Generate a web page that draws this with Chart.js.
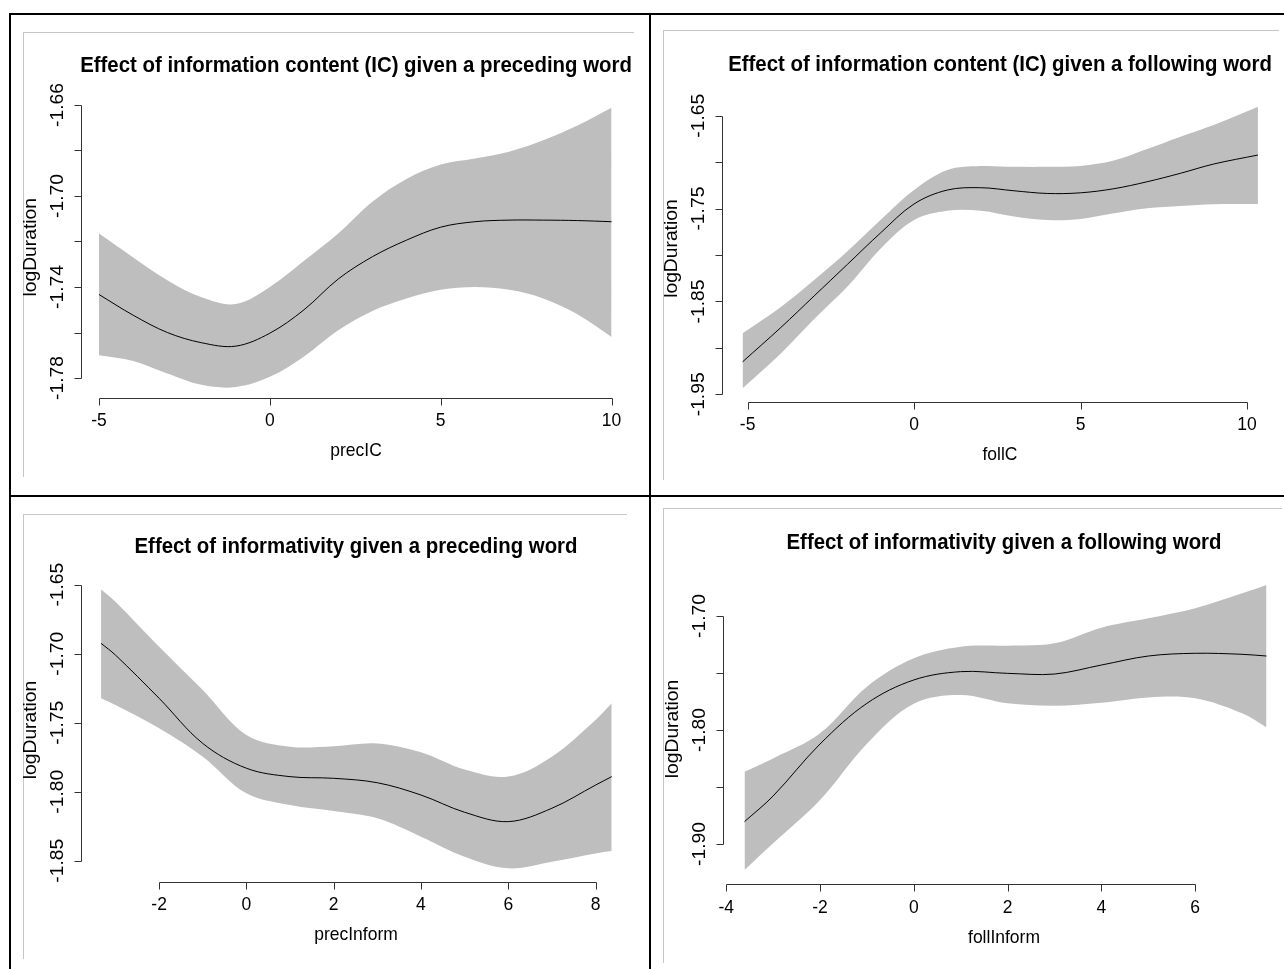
<!DOCTYPE html>
<html>
<head>
<meta charset="utf-8">
<title>Effect plots</title>
<script src="https://cdn.jsdelivr.net/npm/chart.js@4.4.1/dist/chart.umd.min.js"></script>
<style>
  html, body { margin: 0; padding: 0; background: #fff; overflow: hidden; }
  #page { position: relative; width: 1284px; height: 969px; overflow: hidden; }
  #page canvas { position: absolute; left: 0; top: 0; }
  .rule { position: absolute; background: #000; }
  .frame { position: absolute; border-top: 1px solid #c6c6c6; border-left: 1px solid #c6c6c6; }
</style>
</head>
<body>
<div id="page">
  <!-- table lines -->
  <div class="rule" style="left:9px;top:13px;width:1275px;height:2px"></div>
  <div class="rule" style="left:9px;top:13px;width:2px;height:956px"></div>
  <div class="rule" style="left:649px;top:13px;width:2px;height:956px"></div>
  <div class="rule" style="left:9px;top:495px;width:1275px;height:2px"></div>
  <!-- light frames of the pasted plots -->
  <div class="frame" style="left:23px;top:32px;width:610px;height:444px"></div>
  <div class="frame" style="left:663px;top:30px;width:615px;height:449px"></div>
  <div class="frame" style="left:23px;top:514px;width:603px;height:444px"></div>
  <div class="frame" style="left:663px;top:508px;width:618px;height:454px"></div>

  <canvas id="c1" width="1284" height="969"></canvas>
  <canvas id="c2" width="1284" height="969"></canvas>
  <canvas id="c3" width="1284" height="969"></canvas>
  <canvas id="c4" width="1284" height="969"></canvas>
</div>

<script>
// ---- data ----
// precIC (top left)
const precIC = [-5, -4, -3, -2, -1, 0, 1, 2, 3, 4, 5, 6, 7, 8, 9, 10]
const precIC_fit = [-1.7433, -1.7524, -1.7600, -1.7645, -1.7660, -1.7603, -1.7500, -1.7365, -1.7267, -1.7194, -1.7137, -1.7113, -1.7106, -1.7106, -1.7108, -1.7113]
const precIC_upper = [-1.7165, -1.7270, -1.7370, -1.7445, -1.7475, -1.7400, -1.7285, -1.7165, -1.7025, -1.6925, -1.6862, -1.6835, -1.6805, -1.6755, -1.6690, -1.6612]
const precIC_lower = [-1.7700, -1.7725, -1.7780, -1.7830, -1.7840, -1.7795, -1.7705, -1.7590, -1.7505, -1.7450, -1.7412, -1.7400, -1.7412, -1.7450, -1.7520, -1.7620]
const precIC_xTicks = [-5, 0, 5, 10]
const precIC_yTicks = [-1.78, -1.76, -1.74, -1.72, -1.70, -1.68, -1.66]
const precIC_yLabels = ['-1.78', '', '-1.74', '', '-1.70', '', '-1.66']

// follIC (top right)
const follIC = [-5.15, -4, -3, -2, -1, 0, 1, 2, 3, 4, 5, 6, 7, 8, 9, 10.33]
const follIC_fit = [-1.915, -1.878, -1.844, -1.810, -1.776, -1.745, -1.730, -1.7275, -1.7308, -1.7337, -1.733, -1.7286, -1.7211, -1.712, -1.702, -1.6923]
const follIC_upper = [-1.8843, -1.8560, -1.8270, -1.7960, -1.7620, -1.7300, -1.7085, -1.7042, -1.7050, -1.7050, -1.7040, -1.6982, -1.6859, -1.6726, -1.6600, -1.6403]
const follIC_lower = [-1.9435, -1.9060, -1.8690, -1.8340, -1.7930, -1.7623, -1.7523, -1.7523, -1.7585, -1.7623, -1.7612, -1.7551, -1.7497, -1.7472, -1.7452, -1.745]
const follIC_xTicks = [-5, 0, 5, 10]
const follIC_yTicks = [-1.95, -1.90, -1.85, -1.80, -1.75, -1.70, -1.65]
const follIC_yLabels = ['-1.95', '', '-1.85', '', '-1.75', '', '-1.65']

// precInform (bottom left)
const precInform = [-3.33, -3, -2, -1, 0, 1, 2, 3, 4, 5, 6, 7, 8, 8.37]
const precInform_fit = [-1.6925, -1.701, -1.7323, -1.765, -1.783, -1.7891, -1.7903, -1.7935, -1.8024, -1.8149, -1.8217, -1.812, -1.7952, -1.7891]
const precInform_upper = [-1.6534, -1.6623, -1.6949, -1.7263, -1.7589, -1.7674, -1.7670, -1.7650, -1.7715, -1.7840, -1.7890, -1.7746, -1.7480, -1.7360]
const precInform_lower = [-1.7323, -1.7372, -1.7540, -1.7746, -1.8012, -1.8097, -1.8140, -1.8193, -1.8326, -1.8471, -1.8555, -1.8507, -1.8447, -1.8430]
const precInform_xTicks = [-2, 0, 2, 4, 6, 8]
const precInform_yTicks = [-1.85, -1.80, -1.75, -1.70, -1.65]
const precInform_yLabels = ['-1.85', '-1.80', '-1.75', '-1.70', '-1.65']

// follInform (bottom right)
const follInform = [-3.61, -3, -2, -1, 0, 1, 2, 3, 4, 5, 6, 7, 7.52]
const follInform_fit = [-1.8804, -1.8579, -1.8123, -1.7766, -1.7561, -1.7488, -1.7503, -1.7509, -1.7430, -1.7351, -1.7327, -1.7336, -1.7351]
const follInform_upper = [-1.8366, -1.8249, -1.8029, -1.7620, -1.7371, -1.7269, -1.7260, -1.7240, -1.7102, -1.7020, -1.6932, -1.6801, -1.6728]
const follInform_lower = [-1.9228, -1.8994, -1.8614, -1.8120, -1.7770, -1.7693, -1.7766, -1.7787, -1.7761, -1.7714, -1.7722, -1.7854, -1.7976]
const follInform_xTicks = [-4, -2, 0, 2, 4, 6]
const follInform_yTicks = [-1.90, -1.85, -1.80, -1.75, -1.70]
const follInform_yLabels = ['-1.90', '', '-1.80', '', '-1.70']

const titles = [
  'Effect of information content (IC) given a preceding word',
  'Effect of information content (IC) given a following word',
  'Effect of informativity given a preceding word',
  'Effect of informativity given a following word'
]
const xNames = ['precIC', 'follC', 'precInform', 'follInform']
const yName = 'logDuration'

// ---- drawing helpers ----
const PAGE_W = 1284, PAGE_H = 969

function txt(ctx, s, x, y, size, bold, rot) {
  ctx.save()
  ctx.translate(x, y)
  ctx.scale(1, 1.1)   // the pasted plots are a bit stretched vertically
  if (rot) ctx.rotate(-Math.PI / 2)
  ctx.font = (bold ? 'bold ' : '') + size + 'px "Liberation Sans", Arial, sans-serif'
  ctx.textAlign = 'center'
  ctx.textBaseline = 'middle'
  ctx.fillStyle = '#000'
  ctx.fillText(s, 0, 0)
  ctx.restore()
}

// R style axes: line only between the outer ticks, rotated y labels
const rAxes = {
  id: 'rAxes',
  afterDraw(chart, args, o) {
    const ctx = chart.ctx, sx = chart.scales.x, sy = chart.scales.y, a = chart.chartArea
    const px = v => Math.round(sx.getPixelForValue(v)) + 0.5
    const py = v => Math.round(sy.getPixelForValue(v)) + 0.5
    const xb = Math.round(a.bottom) + 0.5
    const yl = Math.round(a.left) + 0.5

    ctx.save()
    ctx.strokeStyle = '#333'
    ctx.lineWidth = 1
    ctx.beginPath()
    ctx.moveTo(px(o.xTicks[0]), xb)
    ctx.lineTo(px(o.xTicks[o.xTicks.length - 1]), xb)
    o.xTicks.forEach(v => { ctx.moveTo(px(v), xb); ctx.lineTo(px(v), xb + 7) })
    ctx.moveTo(yl, py(o.yTicks[0]))
    ctx.lineTo(yl, py(o.yTicks[o.yTicks.length - 1]))
    o.yTicks.forEach(v => { ctx.moveTo(yl, py(v)); ctx.lineTo(yl - 7, py(v)) })
    ctx.stroke()
    ctx.restore()

    o.xTicks.forEach(v => txt(ctx, String(v), sx.getPixelForValue(v), a.bottom + 23, 17.5, false, false))
    o.yTicks.forEach((v, i) => {
      if (o.yLabels[i]) txt(ctx, o.yLabels[i], a.left - 23, sy.getPixelForValue(v), 17.5, false, true)
    })
    txt(ctx, o.title, o.cx, a.top - 31, 20.4, true, false)
    txt(ctx, o.xName, o.cx, a.bottom + 53, 17.5, false, false)
    txt(ctx, yName, a.left - 50, (a.top + a.bottom) / 2, 17.5, false, true)
  }
}

function pts(xs, ys) {
  return xs.map((x, i) => ({ x: x, y: ys[i] }))
}

function effectPlot(id, box, xs, fit, upper, lower, xTicks, yTicks, yLabels, title, xName) {
  const band = {
    pointRadius: 0,
    borderColor: 'rgba(0,0,0,0)',
    borderWidth: 1,
    tension: 0.35,
    order: 2
  }
  new Chart(document.getElementById(id), {
    type: 'line',
    data: {
      datasets: [
        Object.assign({ data: pts(xs, upper), fill: '+1', backgroundColor: '#bebebe' }, band),
        Object.assign({ data: pts(xs, lower), fill: false }, band),
        {
          data: pts(xs, fit),
          fill: false,
          borderColor: '#000',
          borderWidth: 1,
          pointRadius: 0,
          tension: 0.35,
          order: 1
        }
      ]
    },
    options: {
      responsive: false,
      animation: false,
      devicePixelRatio: 1,
      layout: {
        padding: { left: box.left, top: box.top, right: PAGE_W - box.right, bottom: PAGE_H - box.bottom }
      },
      scales: {
        x: { type: 'linear', min: box.xmin, max: box.xmax, display: false },
        y: { type: 'linear', min: box.ymin, max: box.ymax, display: false }
      },
      plugins: {
        legend: { display: false },
        tooltip: { enabled: false },
        rAxes: { xTicks: xTicks, yTicks: yTicks, yLabels: yLabels, title: title, xName: xName, cx: box.cx }
      }
    },
    plugins: [rAxes]
  })
}

// plot regions on the page
effectPlot('c1', { left: 81, right: 632, top: 96.6, bottom: 398, xmin: -5.527, xmax: 10.598, ymin: -1.78879, ymax: -1.65631, cx: 356 },
  precIC, precIC_fit, precIC_upper, precIC_lower, precIC_xTicks, precIC_yTicks, precIC_yLabels, titles[0], xNames[0])

effectPlot('c2', { left: 722, right: 1278.6, top: 95.5, bottom: 401.7, xmin: -5.769, xmax: 10.95, ymin: -1.95796, ymax: -1.6282, cx: 1000 },
  follIC, follIC_fit, follIC_upper, follIC_lower, follIC_xTicks, follIC_yTicks, follIC_yLabels, titles[1], xNames[1])

effectPlot('c3', { left: 81.2, right: 632.2, top: 578.2, bottom: 881.7, xmin: -3.785, xmax: 8.84, ymin: -1.86522, ymax: -1.6453, cx: 356 },
  precInform, precInform_fit, precInform_upper, precInform_lower, precInform_xTicks, precInform_yTicks, precInform_yLabels, titles[2], xNames[2])

effectPlot('c4', { left: 723.4, right: 1284, top: 573.6, bottom: 884.3, xmin: -4.06, xmax: 7.8934, ymin: -1.93535, ymax: -1.6628, cx: 1004 },
  follInform, follInform_fit, follInform_upper, follInform_lower, follInform_xTicks, follInform_yTicks, follInform_yLabels, titles[3], xNames[3])
</script>
</body>
</html>
